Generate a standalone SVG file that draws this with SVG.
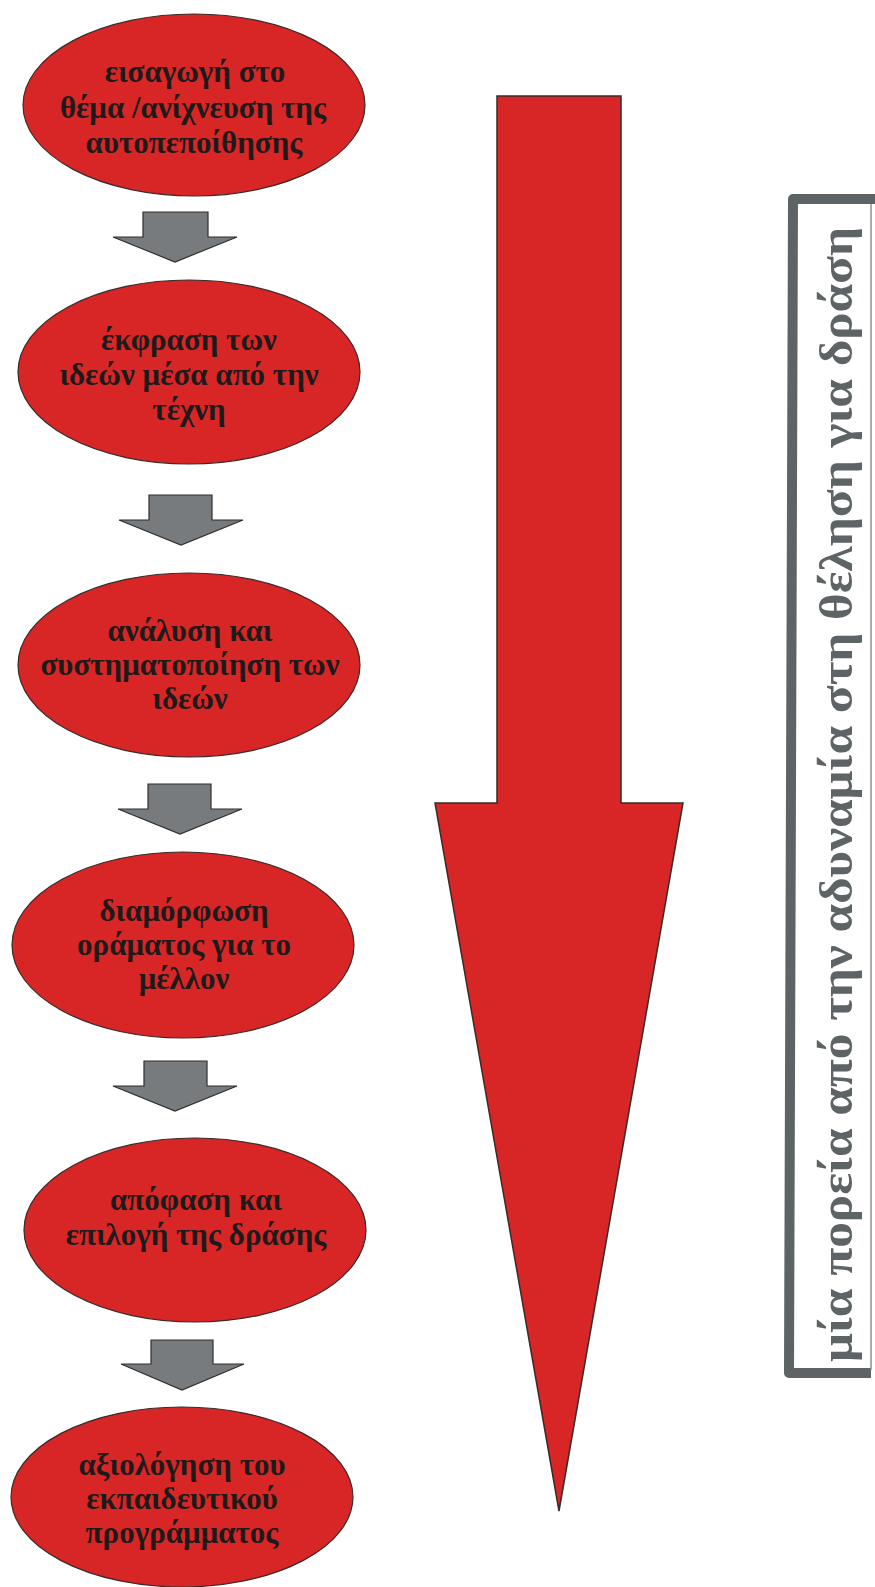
<svg xmlns="http://www.w3.org/2000/svg" width="875" height="1587" viewBox="0 0 875 1587">
<style>
.node ellipse{fill:#d82626;stroke:#3a2a2a;stroke-width:1.2}
.node text{font-family:"Liberation Serif","DejaVu Serif",serif;font-weight:bold;font-size:31px;fill:#1c1a1a;text-anchor:middle}
.conn polygon.small{fill:#777b7e;stroke:#2e2e2e;stroke-width:1.2;stroke-linejoin:miter}
.conn polygon.big{fill:#d82626;stroke:#3a2a2a;stroke-width:1.5;stroke-linejoin:miter}
.label text{font-family:"Liberation Serif","DejaVu Serif",serif;font-weight:bold;font-size:46px;fill:#5e6465}
</style>
<rect width="875" height="1587" fill="#ffffff"/>
<g id="connectors" class="conn">
<polygon class="small" points="143,212 208,212 208,237 237,237 175,262 113,237 143,237"/>
<polygon class="small" points="149,495 212,495 212,520 243,520 181,545 119,520 149,520"/>
<polygon class="small" points="148,784 211,784 211,809 242,809 180,834 118,809 148,809"/>
<polygon class="small" points="144,1061 207,1061 207,1086 237,1086 175,1111 113,1086 144,1086"/>
<polygon class="small" points="151,1340 213,1340 213,1364 244,1364 182,1390 121,1364 151,1364"/>
<polygon id="big-arrow" class="big" points="497,96 621,96 621,803 683,803 559,1511 435,803 497,803"/>
</g>
<g id="node1" class="node">
<ellipse cx="194" cy="105" rx="171" ry="91"/>
<text x="195" y="82">εισαγωγή στο</text>
<text x="193" y="118">θέμα /ανίχνευση της</text>
<text x="194" y="153">αυτοπεποίθησης</text>
</g>
<g id="node2" class="node">
<ellipse cx="189" cy="372" rx="171" ry="92"/>
<text x="189" y="350">έκφραση των</text>
<text x="189" y="385">ιδεών μέσα από την</text>
<text x="189" y="420">τέχνη</text>
</g>
<g id="node3" class="node">
<ellipse cx="189" cy="665" rx="171" ry="92"/>
<text x="190" y="641">ανάλυση και</text>
<text x="190" y="675">συστηματοποίηση των</text>
<text x="190" y="709">ιδεών</text>
</g>
<g id="node4" class="node">
<ellipse cx="183" cy="945" rx="171" ry="93"/>
<text x="184" y="921">διαμόρφωση</text>
<text x="184" y="955">οράματος για το</text>
<text x="184" y="989">μέλλον</text>
</g>
<g id="node5" class="node">
<ellipse cx="195" cy="1230" rx="171" ry="92"/>
<text x="196" y="1210">απόφαση και</text>
<text x="196" y="1245">επιλογή της δράσης</text>
</g>
<g id="node6" class="node">
<ellipse cx="182" cy="1497" rx="171" ry="90"/>
<text x="182" y="1475">αξιολόγηση του</text>
<text x="182" y="1509">εκπαιδευτικού</text>
<text x="182" y="1543">προγράμματος</text>
</g>
<g id="label-box" class="label">
<path d="M 875 199 L 793 199 L 789 1373 L 871 1373" fill="none" stroke="#5e6465" stroke-width="10" stroke-linejoin="round"/>
<line x1="871" y1="204" x2="871" y2="1370" stroke="#8a8f90" stroke-width="1.5"/>
<text transform="translate(852,1362) rotate(-90)" textLength="1135" lengthAdjust="spacingAndGlyphs">μία πορεία από την αδυναμία στη θέληση για δράση</text>
</g>
</svg>
